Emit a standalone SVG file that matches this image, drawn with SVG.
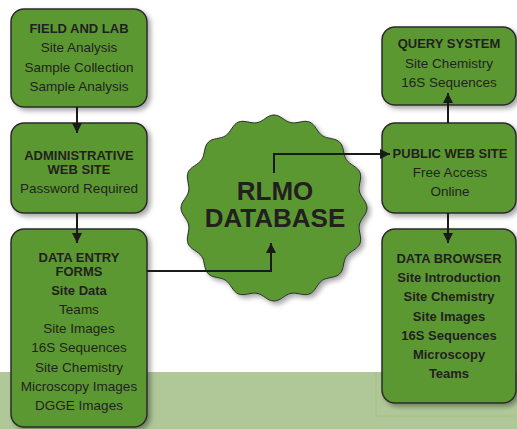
<svg xmlns="http://www.w3.org/2000/svg" width="517" height="429" viewBox="0 0 517 429">
<defs>
<style>
.box{fill:#5b9832;stroke:#2b2b2b;stroke-width:1.5;filter:url(#sh)}
.t{font-family:"Liberation Sans",Arial,sans-serif;font-size:13.5px;fill:#231f20;text-anchor:middle}
.b{font-weight:bold;font-size:13px}
.big{font-family:"Liberation Sans",Arial,sans-serif;font-weight:bold;font-size:26px;fill:#231f20;text-anchor:middle}
.c{fill:none;stroke:#1a1a1a;stroke-width:2;marker-end:url(#ah)}
</style>
<filter id="sh" x="-20%" y="-20%" width="140%" height="140%">
<feDropShadow dx="3" dy="3" stdDeviation="2.5" flood-color="#000" flood-opacity="0.35"/>
</filter>
<marker id="ah" viewBox="0 0 10 10" refX="10" refY="5" markerWidth="5" markerHeight="5" orient="auto" markerUnits="strokeWidth">
<path d="M0,0 L10,5 L0,10 z" fill="#1a1a1a"/>
</marker>
</defs>
<rect width="517" height="429" fill="#ffffff"/>
<rect x="0" y="372" width="517" height="57" fill="#b0c898"/>
<path d="M376 372 V416 H517" fill="none" stroke="#a2c184" stroke-width="1"/>

<g id="field-and-lab">
<rect class="box" x="11" y="9" width="136" height="98" rx="13"/>
<text class="t b" x="79" y="33">FIELD AND LAB</text>
<text class="t" x="79" y="52">Site Analysis</text>
<text class="t" x="79" y="72">Sample Collection</text>
<text class="t" x="79" y="91">Sample Analysis</text>
</g>

<g id="administrative-web-site">
<rect class="box" x="11" y="123" width="136" height="90" rx="13"/>
<text class="t b" x="79" y="160">ADMINISTRATIVE</text>
<text class="t b" x="79" y="174">WEB SITE</text>
<text class="t" x="79" y="193">Password Required</text>
</g>

<g id="data-entry-forms">
<rect class="box" x="11" y="229" width="136" height="198" rx="13"/>
<text class="t b" x="79" y="262">DATA ENTRY</text>
<text class="t b" x="79" y="276">FORMS</text>
<text class="t b" x="79" y="295">Site Data</text>
<text class="t" x="79" y="314">Teams</text>
<text class="t" x="79" y="333">Site Images</text>
<text class="t" x="79" y="352">16S Sequences</text>
<text class="t" x="79" y="372">Site Chemistry</text>
<text class="t" x="79" y="391">Microscopy Images</text>
<text class="t" x="79" y="410">DGGE Images</text>
</g>

<g id="rlmo-database">
<path fill="#5b9832" stroke="#2b2b2b" stroke-width="1" filter="url(#sh)" d="M274 115 C280.5 115 284.59 121.4 290.97 122.67 C297.35 123.94 303.58 119.59 309.59 122.08 C315.6 124.57 316.93 132.05 322.33 135.66 C327.73 139.27 335.16 137.64 339.76 142.24 C344.36 146.84 342.73 154.27 346.34 159.67 C349.95 165.07 357.43 166.4 359.92 172.41 C362.41 178.42 358.06 184.65 359.33 191.03 C360.6 197.41 367 201.5 367 208 C367 214.5 360.6 218.59 359.33 224.97 C358.06 231.35 362.41 237.58 359.92 243.59 C357.43 249.6 349.95 250.93 346.34 256.33 C342.73 261.73 344.36 269.16 339.76 273.76 C335.16 278.36 327.73 276.73 322.33 280.34 C316.93 283.95 315.6 291.43 309.59 293.92 C303.58 296.41 297.35 292.06 290.97 293.33 C284.59 294.6 280.5 301 274 301 C267.5 301 263.41 294.6 257.03 293.33 C250.65 292.06 244.42 296.41 238.41 293.92 C232.4 291.43 231.07 283.95 225.67 280.34 C220.27 276.73 212.84 278.36 208.24 273.76 C203.64 269.16 205.27 261.73 201.66 256.33 C198.05 250.93 190.57 249.6 188.08 243.59 C185.59 237.58 189.94 231.35 188.67 224.97 C187.4 218.59 181 214.5 181 208 C181 201.5 187.4 197.41 188.67 191.03 C189.94 184.65 185.59 178.42 188.08 172.41 C190.57 166.4 198.05 165.07 201.66 159.67 C205.27 154.27 203.64 146.84 208.24 142.24 C212.84 137.64 220.27 139.27 225.67 135.66 C231.07 132.05 232.4 124.57 238.41 122.08 C244.42 119.59 250.65 123.94 257.03 122.67 C263.41 121.4 267.5 115 274 115 Z"/>
<text class="big" x="275" y="200">RLMO</text>
<text class="big" x="275" y="227">DATABASE</text>
</g>

<g id="query-system">
<rect class="box" x="382" y="27" width="134" height="78" rx="13"/>
<text class="t b" x="449" y="48">QUERY SYSTEM</text>
<text class="t" x="449" y="68">Site Chemistry</text>
<text class="t" x="449" y="87">16S Sequences</text>
</g>

<g id="public-web-site">
<rect class="box" x="382" y="123" width="134" height="90" rx="13"/>
<text class="t b" x="450" y="158">PUBLIC WEB SITE</text>
<text class="t" x="450" y="177">Free Access</text>
<text class="t" x="450" y="196">Online</text>
</g>

<g id="data-browser">
<rect class="box" x="382" y="229" width="134" height="174" rx="13"/>
<text class="t b" x="449" y="263">DATA BROWSER</text>
<text class="t b" x="449" y="282">Site Introduction</text>
<text class="t b" x="449" y="301">Site Chemistry</text>
<text class="t b" x="449" y="321">Site Images</text>
<text class="t b" x="449" y="340">16S Sequences</text>
<text class="t b" x="449" y="359">Microscopy</text>
<text class="t b" x="449" y="378">Teams</text>
</g>

<g id="connectors">
<path class="c" d="M77 107 V133"/>
<path class="c" d="M77 213 V243"/>
<path class="c" d="M147 271 H271 V243"/>
<path class="c" d="M274 173 V154 H390"/>
<path class="c" d="M448 123 V93"/>
<path class="c" d="M448 213 V243"/>
</g>
</svg>
